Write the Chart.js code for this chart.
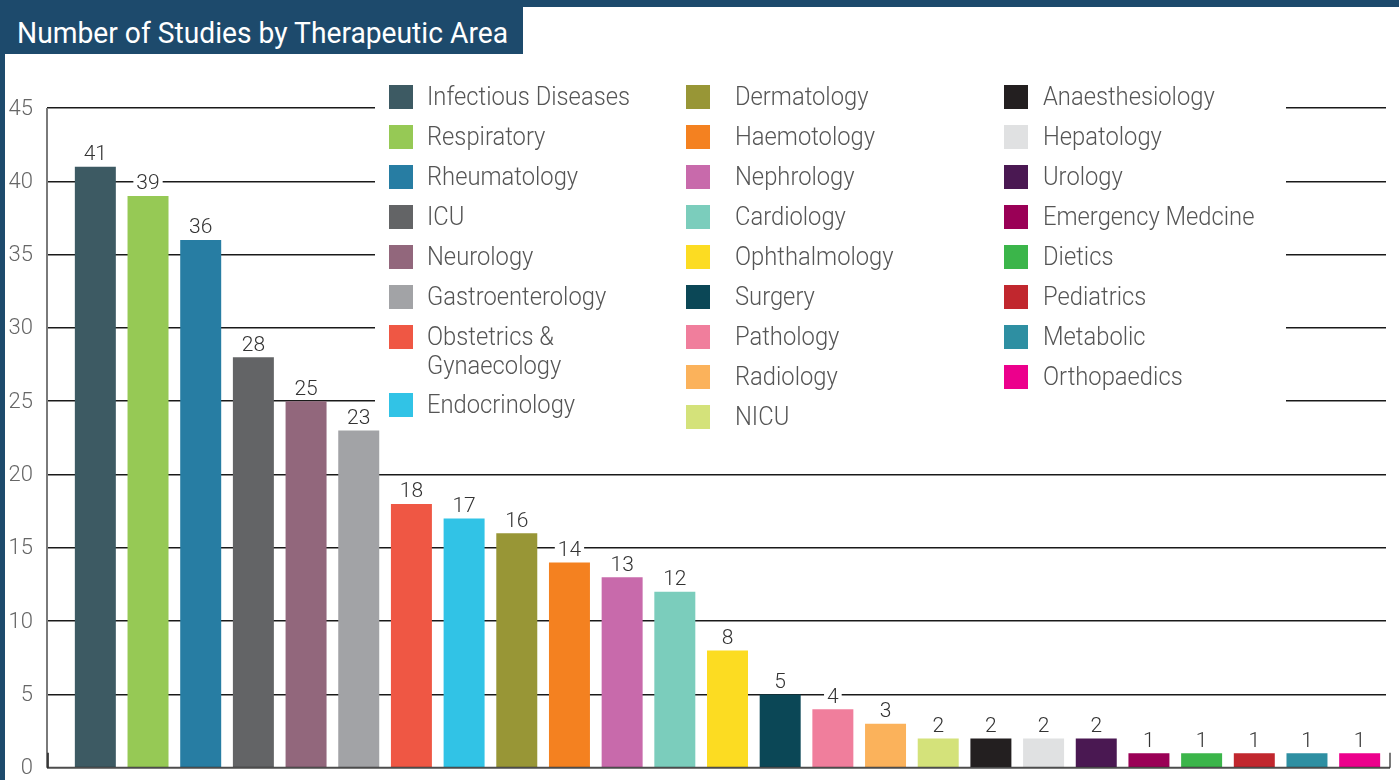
<!DOCTYPE html>
<html><head><meta charset="utf-8">
<script src="https://cdn.jsdelivr.net/npm/chart.js@4.4.1/dist/chart.umd.min.js"></script>
<style>
html,body{margin:0;padding:0;background:#fff;}
#wrap{position:relative;width:1399px;height:780px;overflow:hidden;font-family:Roboto,'Open Sans',sans-serif;}
#c{position:absolute;left:0;top:0;}
.band{position:absolute;background:#1d4a6c;}
#title{position:absolute;left:0;top:0;width:523px;height:54px;background:#1d4a6c;}
#titleText{position:absolute;left:17px;top:19px;font-size:29px;line-height:29px;color:#fff;white-space:nowrap;transform-origin:0 0;font-weight:400;}
.lbox{position:absolute;width:24px;height:24px;}
.ltxt{position:absolute;font-size:25px;line-height:29px;font-weight:300;color:#555;transform-origin:0 0;}
</style></head>
<body>
<div id="wrap">
<canvas id="c" width="1399" height="795"></canvas>
<div class="band" style="left:0;top:0;width:1399px;height:7px;"></div>
<div class="band" style="left:0;top:0;width:5px;height:780px;"></div>
<div id="title"><span id="titleText">Number of Studies by Therapeutic Area</span></div>
<div id="legend"></div>
</div>
<script>
const categories = ['Infectious Diseases','Respiratory','Rheumatology','ICU','Neurology','Gastroenterology','Obstetrics & Gynaecology','Endocrinology','Dermatology','Haemotology','Nephrology','Cardiology','Ophthalmology','Surgery','Pathology','Radiology','NICU','Anaesthesiology','Hepatology','Urology','Emergency Medcine','Dietics','Pediatrics','Metabolic','Orthopaedics'];
const studyCounts = [41,39,36,28,25,23,18,17,16,14,13,12,8,5,4,3,2,2,2,2,1,1,1,1,1];
const barColors = ['#3d5a63','#96c955','#277da3','#636466','#92677c','#a2a3a6','#ef5744','#31c3e6','#989636','#f48120','#c86aab','#7bcdbc','#fcdc22','#0b4756','#f07e9c','#fbb25b','#d4e27a','#231f20','#e0e1e2','#4a1852','#9a0056','#3bb54a','#c1272e','#2e8fa2','#ec008c'];
const yTickLabels = ['0','5','10','15','20','25','30','35','40','45'];
const legendColumnSizes = [8,9,8];

// ---- title fit ----
const tt = document.getElementById('titleText');
const tw = tt.getBoundingClientRect().width;
tt.style.transform = 'scaleX(' + (491/tw) + ')';

// ---- legend (HTML) ----
const legendEl = document.getElementById('legend');
const colBoxX = [389, 686, 1004];
const colTxtX = [427, 735, 1043];
const colTxtW = [230, 240, 300];
let k = 1;
{
  const probe = document.createElement('span');
  probe.className = 'ltxt'; probe.style.whiteSpace = 'nowrap';
  probe.textContent = categories[0];
  legendEl.appendChild(probe);
  k = 203 / probe.getBoundingClientRect().width;
  legendEl.removeChild(probe);
}
let idx = 0;
legendColumnSizes.forEach((n, col) => {
  let top = 85;
  for (let j = 0; j < n; j++, idx++) {
    const b = document.createElement('div');
    b.className = 'lbox';
    b.style.left = colBoxX[col] + 'px'; b.style.top = top + 'px';
    b.style.background = barColors[idx];
    legendEl.appendChild(b);
    const t = document.createElement('div');
    t.className = 'ltxt';
    t.style.left = colTxtX[col] + 'px'; t.style.top = (top - 3) + 'px';
    t.style.width = (colTxtW[col] / k) + 'px';
    t.style.transform = 'scaleX(' + k + ')';
    t.textContent = categories[idx];
    legendEl.appendChild(t);
    const lines = Math.round(t.getBoundingClientRect().height / 29);
    top += 40 + (lines - 1) * 28;
  }
});

// ---- chart plugins ----
const legendBg = {
  id: 'legendBg',
  beforeDatasetsDraw(chart) {
    const c = chart.ctx;
    c.save(); c.fillStyle = '#fff';
    c.fillRect(375, 70, 1286 - 375, 370);
    c.restore();
  }
};
const axisLines = {
  id: 'axisLines',
  afterDatasetsDraw(chart) {
    const c = chart.ctx, a = chart.chartArea;
    const x0 = a.left - 22, yb = a.bottom;
    c.save();
    c.lineWidth = 2;
    c.strokeStyle = '#7a7a7a';
    c.beginPath(); c.moveTo(x0, a.top); c.lineTo(x0, yb); c.stroke();
    c.beginPath(); c.moveTo(a.right + 4, yb - 15); c.lineTo(a.right + 4, yb); c.stroke();
    c.strokeStyle = 'rgba(45,45,45,0.85)';
    c.beginPath(); c.moveTo(x0, yb); c.lineTo(a.right + 4, yb); c.stroke();
    c.beginPath(); c.moveTo(x0 + 1, yb - 15); c.lineTo(x0 + 1, yb); c.stroke();
    c.restore();
  }
};
const valueLabels = {
  id: 'valueLabels',
  afterDatasetsDraw(chart) {
    const c = chart.ctx;
    const meta = chart.getDatasetMeta(0);
    c.save();
    c.font = '300 21px Roboto';
    c.textAlign = 'center';
    c.textBaseline = 'alphabetic';
    meta.data.forEach((el, i) => {
      const txt = String(chart.data.datasets[0].data[i]);
      const w = c.measureText(txt).width;
      const y = el.y - 6.5;
      c.fillStyle = '#fff';
      c.fillRect(el.x - w / 2 - 3, y - 17, w + 6, 17);
      c.fillStyle = '#333';
      c.fillText(txt, el.x, y);
    });
    c.restore();
  }
};

new Chart(document.getElementById('c'), {
  type: 'bar',
  data: {
    labels: categories,
    datasets: [{ data: studyCounts, backgroundColor: barColors, borderWidth: 0, barPercentage: 0.778, categoryPercentage: 1 }]
  },
  options: {
    responsive: false, animation: false, maintainAspectRatio: false,
    layout: { padding: { left: 0, right: 13, top: 108, bottom: 13 } },
    plugins: { legend: { display: false }, tooltip: { enabled: false } },
    scales: {
      x: { display: false },
      y: {
        min: 0, max: 45,
        ticks: { stepSize: 5, color: '#666', font: { family: 'Roboto', size: 22, weight: 300 }, padding: 14, labelOffset: 1,
                 callback: (v, i) => yTickLabels[i] },
        grid: { color: (ctx) => (ctx.tick && ctx.tick.value === 0) ? 'rgba(0,0,0,0)' : '#1a1a1a', lineWidth: 1.5, drawTicks: true, tickLength: 22 },
        border: { display: false },
        afterFit(s) { s.width = 69; }
      }
    }
  },
  plugins: [legendBg, axisLines, valueLabels]
});
</script>
</body></html>
